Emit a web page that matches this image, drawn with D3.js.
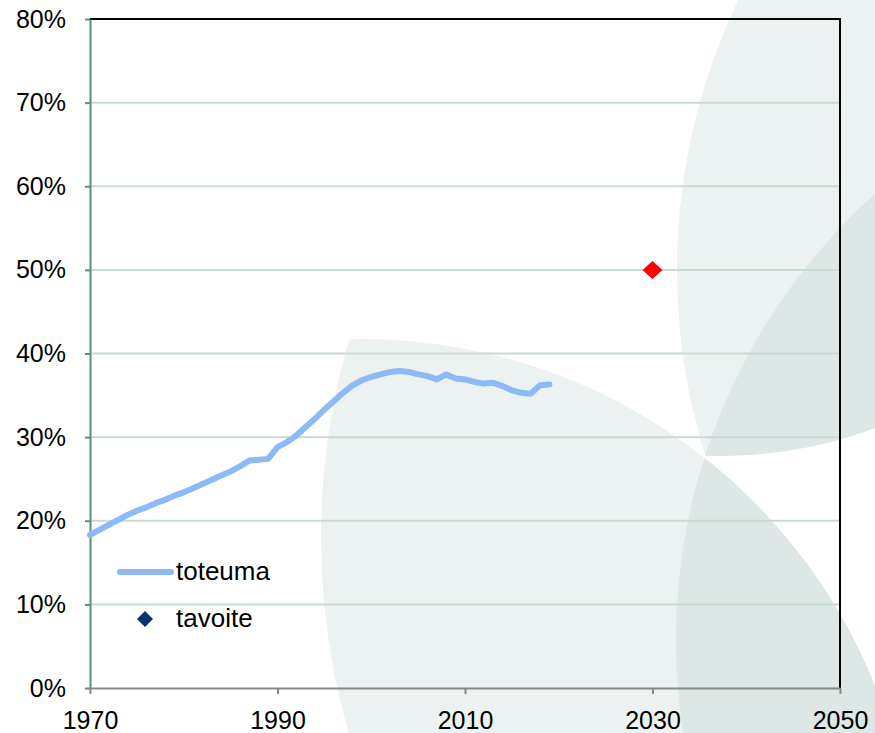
<!DOCTYPE html>
<html>
<head>
<meta charset="utf-8">
<script src="https://cdn.jsdelivr.net/npm/d3@7"></script>
<style>
  body { margin: 0; background: #fff; }
  svg { display: block; }
</style>
</head>
<body>
<main></main>
<script>
const years = [
  1970, 1971, 1972, 1973, 1974, 1975, 1976, 1977, 1978, 1979,
  1980, 1981, 1982, 1983, 1984, 1985, 1986, 1987, 1988, 1989,
  1990, 1991, 1992, 1993, 1994, 1995, 1996, 1997, 1998, 1999,
  2000, 2001, 2002, 2003, 2004, 2005, 2006, 2007, 2008, 2009,
  2010, 2011, 2012, 2013, 2014, 2015, 2016, 2017, 2018, 2019
];
const toteuma = [
  0.183, 0.189, 0.195, 0.201, 0.207, 0.212, 0.216, 0.221, 0.225, 0.230,
  0.234, 0.239, 0.244, 0.249, 0.254, 0.259, 0.265, 0.272, 0.273, 0.274,
  0.288, 0.294, 0.302, 0.312, 0.322, 0.333, 0.343, 0.353, 0.362, 0.368,
  0.372, 0.375, 0.378, 0.379, 0.378, 0.375, 0.373, 0.369, 0.375, 0.370,
  0.369, 0.366, 0.364, 0.365, 0.361, 0.356, 0.353, 0.352, 0.362, 0.363
];
const targetYears = [2030];
const tavoite = [0.50];
const xTicks = [1970, 1990, 2010, 2030, 2050];
const yTicks = [0, 0.1, 0.2, 0.3, 0.4, 0.5, 0.6, 0.7, 0.8];
const seriesNames = ['toteuma', 'tavoite'];

const width = 875;
const height = 733;
const margin = { top: 19, right: 35, bottom: 45, left: 90 };
const font = "'Liberation Sans', Arial, sans-serif";

const x = d3.scaleLinear()
  .domain([1970, 2050])
  .range([margin.left, width - margin.right]);

const y = d3.scaleLinear()
  .domain([0, 0.8])
  .range([height - margin.bottom, margin.top]);

const svg = d3.select('main')
  .append('svg')
  .attr('width', width)
  .attr('height', height);

// Background petals
const defs = svg.append('defs');
const circles = {
  a1: [362, 892, 553],
  a2: [1028, 537, 707],
  b1: [1303, 270, 626],
  b2: [720, 14, 442],
  c: [1276, 640, 600]
};
Object.entries(circles).forEach(([id, c]) => {
  defs.append('clipPath')
    .attr('id', 'clip-' + id)
    .append('circle')
    .attr('cx', c[0])
    .attr('cy', c[1])
    .attr('r', c[2]);
});

const bg = svg.append('g');
[['a1', 'a2'], ['b1', 'b2']].forEach(pair => {
  const petal = bg.append('g')
    .attr('clip-path', `url(#clip-${pair[0]})`)
    .append('g')
    .attr('clip-path', `url(#clip-${pair[1]})`);
  petal.append('rect')
    .attr('width', width)
    .attr('height', height)
    .attr('fill', '#ecf2f1');
  petal.append('circle')
    .attr('cx', circles.c[0])
    .attr('cy', circles.c[1])
    .attr('r', circles.c[2])
    .attr('fill', '#dde7e5');
});

// Gridlines
svg.append('g')
  .selectAll('line')
  .data(yTicks.slice(1, -1))
  .enter()
  .append('line')
  .attr('x1', x.range()[0])
  .attr('x2', x.range()[1])
  .attr('y1', d => y(d))
  .attr('y2', d => y(d))
  .attr('stroke', '#c9dad5')
  .attr('stroke-width', 2);

// Plot border (top and right)
svg.append('path')
  .attr('d', `M${x.range()[0]},${y(0.8)}H${x.range()[1]}V${y(0)}`)
  .attr('fill', 'none')
  .attr('stroke', '#000')
  .attr('stroke-width', 2);

// Y axis
const yAxis = svg.append('g')
  .attr('transform', `translate(${margin.left}, 0)`)
  .call(d3.axisLeft(y)
    .tickValues(yTicks)
    .tickFormat(d3.format('.0%'))
    .tickSizeInner(5)
    .tickSizeOuter(0)
    .tickPadding(19));
yAxis.select('.domain')
  .attr('stroke', '#5d8c82')
  .attr('stroke-width', 2);
yAxis.selectAll('.tick line')
  .attr('stroke', '#5d8c82')
  .attr('stroke-width', 2);
yAxis.selectAll('text')
  .attr('fill', '#000')
  .style('font-family', font)
  .style('font-size', '25px');

// X axis
const xAxis = svg.append('g')
  .attr('transform', `translate(0, ${height - margin.bottom})`)
  .call(d3.axisBottom(x)
    .tickValues(xTicks)
    .tickFormat(d3.format('d'))
    .tickSizeInner(6)
    .tickSizeOuter(0)
    .tickPadding(17));
xAxis.select('.domain')
  .attr('stroke', '#878787')
  .attr('stroke-width', 2);
xAxis.selectAll('.tick line')
  .attr('stroke', '#878787')
  .attr('stroke-width', 2);
xAxis.selectAll('text')
  .attr('fill', '#000')
  .style('font-family', font)
  .style('font-size', '25px');

// Toteuma line
const line = d3.line()
  .x((d, i) => x(years[i]))
  .y(d => y(d));

svg.append('path')
  .datum(toteuma)
  .attr('d', line)
  .attr('fill', 'none')
  .attr('stroke', '#8dbaf7')
  .attr('stroke-width', 6)
  .attr('stroke-linejoin', 'round')
  .attr('stroke-linecap', 'round');

// Tavoite point
const diamond = (w, h) => `M0,${-h}L${w},0L0,${h}L${-w},0Z`;
svg.append('g')
  .selectAll('path')
  .data(tavoite)
  .enter()
  .append('path')
  .attr('transform', (d, i) => `translate(${x(targetYears[i])}, ${y(d)})`)
  .attr('d', diamond(10, 9))
  .attr('fill', '#ff0000');

// Legend
const legend = svg.append('g')
  .style('font-family', font)
  .style('font-size', '26px');

legend.append('line')
  .attr('x1', 120)
  .attr('x2', 171)
  .attr('y1', 572)
  .attr('y2', 572)
  .attr('stroke', '#8dbaf7')
  .attr('stroke-width', 6)
  .attr('stroke-linecap', 'round');

legend.append('path')
  .attr('transform', 'translate(145, 619)')
  .attr('d', diamond(8, 8))
  .attr('fill', '#0b3170');

legend.selectAll('text')
  .data(seriesNames)
  .enter()
  .append('text')
  .attr('x', 176)
  .attr('y', (d, i) => 580 + i * 47)
  .text(d => d);
</script>
</body>
</html>
